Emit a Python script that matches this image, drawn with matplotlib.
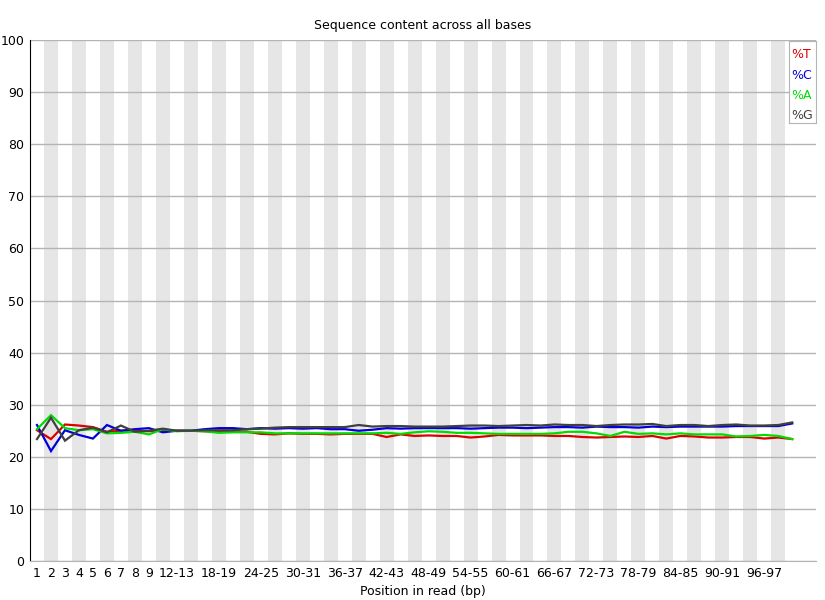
import matplotlib
matplotlib.use("Agg")
import matplotlib.pyplot as plt
import numpy as np

# positions in read: 1..9 single, then grouped pairs 10-11 .. 100-101
positions = [str(i) for i in range(1, 10)] + [f"{i}-{i + 1}" for i in range(10, 101, 2)]

pct_t = [25.1, 23.4, 26.2, 26.0, 25.7, 24.8, 25.0, 25.0, 24.9, 25.1,
         25.0, 25.0, 24.9, 24.8, 24.9, 24.8, 24.4, 24.3, 24.5, 24.4,
         24.4, 24.3, 24.4, 24.4, 24.4, 23.8, 24.3, 24.0, 24.1, 24.0,
         24.0, 23.7, 23.9, 24.2, 24.1, 24.1, 24.1, 24.0, 24.0, 23.8,
         23.7, 23.8, 23.9, 23.8, 24.0, 23.5, 24.0, 23.9, 23.7, 23.7,
         23.8, 23.8, 23.5, 23.7, 23.4]
pct_c = [26.1, 21.1, 25.1, 24.2, 23.5, 26.1, 25.0, 25.3, 25.5, 24.7,
         25.0, 25.0, 25.3, 25.5, 25.5, 25.3, 25.5, 25.4, 25.5, 25.4,
         25.5, 25.3, 25.3, 25.0, 25.2, 25.5, 25.4, 25.5, 25.5, 25.5,
         25.5, 25.4, 25.5, 25.6, 25.6, 25.5, 25.6, 25.7, 25.7, 25.6,
         25.8, 25.7, 25.7, 25.6, 25.8, 25.7, 25.8, 25.8, 25.8, 25.8,
         25.9, 25.9, 25.9, 25.9, 26.4]
pct_a = [25.3, 28.0, 25.5, 25.1, 25.3, 24.5, 24.6, 24.8, 24.3, 25.3,
         24.9, 25.0, 24.9, 24.6, 24.7, 24.7, 24.7, 24.5, 24.5, 24.5,
         24.5, 24.5, 24.5, 24.5, 24.5, 24.6, 24.4, 24.7, 24.9, 24.8,
         24.6, 24.6, 24.5, 24.4, 24.4, 24.4, 24.4, 24.5, 24.8, 24.8,
         24.5, 24.0, 24.8, 24.4, 24.5, 24.3, 24.5, 24.3, 24.3, 24.3,
         23.9, 24.0, 24.2, 24.0, 23.4]
pct_g = [23.4, 27.5, 23.1, 25.1, 25.6, 24.7, 26.0, 24.8, 25.0, 25.4,
         25.0, 25.0, 25.1, 25.1, 25.1, 25.3, 25.4, 25.6, 25.7, 25.7,
         25.7, 25.7, 25.7, 26.1, 25.8, 25.9, 25.9, 25.8, 25.8, 25.8,
         25.9, 26.0, 26.0, 25.9, 26.0, 26.1, 26.0, 26.2, 26.1, 26.1,
         25.9, 26.1, 26.2, 26.2, 26.3, 25.9, 26.1, 26.1, 25.9, 26.1,
         26.2, 26.0, 26.0, 26.1, 26.6]

series = [("%T", pct_t, "#dc0000"), ("%C", pct_c, "#0000dc"),
          ("%A", pct_a, "#00dc00"), ("%G", pct_g, "#404040")]

plt.rcParams["font.family"] = "DejaVu Sans"
fig = plt.figure(figsize=(8.25, 6), dpi=100)
ax = fig.add_axes([30 / 825, 1 - 561 / 600, 786 / 825, 521 / 600])

n = len(positions)
x = np.arange(n)

# alternating column stripes
for i in range(1, n, 2):
    ax.axvspan(i - 0.5, i + 0.5, color="#e6e6e6", lw=0, zorder=0)

for yv in range(0, 101, 10):
    ax.axhline(yv, color="#b4b4b4", lw=1, zorder=1)

for name, vals, col in series:
    ax.plot(x, vals, color=col, lw=1.6, zorder=3, solid_joinstyle="miter")

ax.set_xlim(-0.5, 55.7)
ax.set_ylim(0, 100)

tick_idx = list(range(9)) + list(range(10, n, 3))
ax.set_xticks(tick_idx)
ax.set_xticklabels([positions[i] for i in tick_idx], fontsize=9)
ax.set_yticks(range(0, 101, 10))
ax.set_yticklabels([str(v) for v in range(0, 101, 10)], fontsize=9)
ax.tick_params(length=0, pad=4)

ax.spines[["top", "right"]].set_visible(False)
ax.spines["bottom"].set_color("#b4b4b4")
ax.spines["left"].set_color("black")

ax.set_title("Sequence content across all bases", fontsize=9, pad=8)
ax.set_xlabel("Position in read (bp)", fontsize=9, labelpad=4)

# legend box in top-right corner
leg_ax = fig.add_axes([789 / 825, 1 - 123 / 600, 27 / 825, 82 / 600])
leg_ax.set_xticks([])
leg_ax.set_yticks([])
for sp in leg_ax.spines.values():
    sp.set_color("#b4b4b4")
for k, (name, vals, col) in enumerate(series):
    leg_ax.text(0.08, (123 - 55 - k * 20.3) / 82, name, color=col, fontsize=9,
                va="center", ha="left", transform=leg_ax.transAxes)

fig.savefig("out.png", dpi=100)
